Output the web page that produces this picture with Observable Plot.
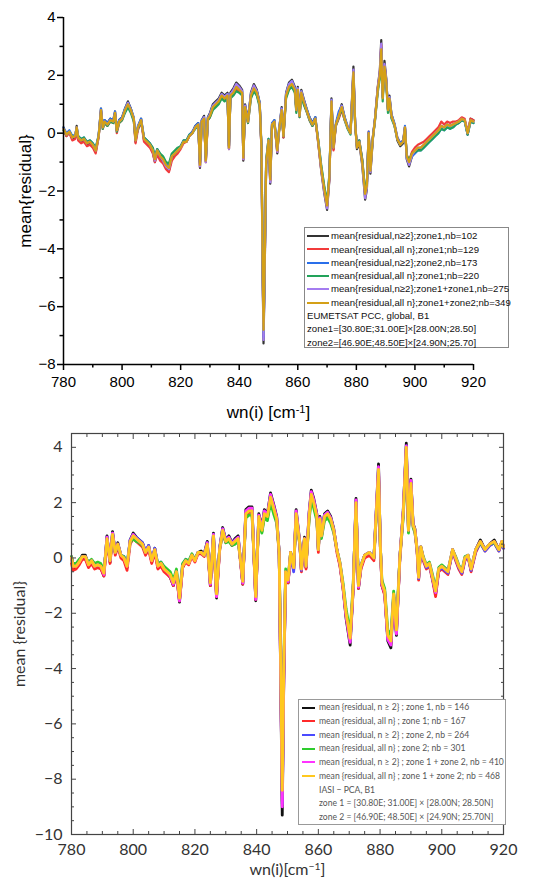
<!DOCTYPE html>
<html><head><meta charset="utf-8">
<script src="https://cdn.jsdelivr.net/npm/d3@7"></script>
<script src="https://cdn.jsdelivr.net/npm/@observablehq/plot@0.6"></script>
<style>
body{margin:0;background:#fff;width:550px;height:888px;overflow:hidden;position:relative}
#top{position:absolute;left:0;top:0}
#bot{position:absolute;left:0;top:430px}
.leg{position:absolute;background:#fff;box-sizing:border-box}
.row{position:absolute;left:0;white-space:nowrap}
.sw{position:absolute;height:2px}
</style></head><body>
<div id="top"></div><div id="bot"></div>
<div id="legTop" class="leg"></div><div id="legBot" class="leg"></div>
<script>
// ---------- top panel (EUMETSAT PCC) ----------
const wnTop = [
780,781,782,783,784,784.5,785,786,787,788,
789,790,791,792,792.8,793.4,794,795,796,797,
797.6,798.2,799,800,801,802,803,804,804.6,805.4,
806.5,807.5,808.5,809.5,810.5,811.2,812,813,814,815,
816,817,818,819,820,821,822,823,824,825,
826,826.6,827.2,828,828.6,829.3,830,831,832,833,
834,835,836,836.5,837,838,839,840,841,841.4,
842,843,844,845,846,847,847.6,848,848.3,848.7,
849.2,850,850.6,851.2,852,853,853.6,854.5,855.1,856,
857,858,859,859.5,860,860.6,861.2,862,863,864,
865,866,867,868,869,870,870.8,871.5,872.2,873,
874,875,876,877,878,879,879.6,880.2,881,882,
883,883.6,884.2,884.8,885.6,886.4,887.3,888,888.5,889,
889.6,890.2,890.8,891.3,892,893,894,895,896,896.6,
897.2,898,899,900,901,902,903,904,905,906,
907,908,909,910,911,912,913,914,915,916,
917,918,919,920];
const topBlack = [
0.2,-0.1,0.05,-0.2,-0.15,0.25,-0.2,-0.3,-0.25,-0.4,
-0.35,-0.45,-0.65,-0.1,0.85,0.2,0.45,0.35,0.5,0.45,
0.75,0.1,0.45,0.55,0.85,1.1,0.85,0.5,-0.3,0.2,
0.5,-0.25,-0.35,-0.45,-0.65,-1.0,-0.65,-0.85,-1.0,-1.2,
-1.3,-0.85,-0.75,-0.6,-0.5,-0.3,-0.3,-0.1,0.0,0.25,
0.35,-1.2,0.45,0.6,-1.0,0.55,0.7,1.0,1.1,1.2,
1.4,1.3,1.4,-0.55,1.4,1.55,1.75,1.65,1.5,-0.95,
1.0,0.45,1.4,1.7,1.5,1.05,-0.6,-4.8,-7.27,-4.8,
-1.1,-0.3,-1.75,0.3,0.45,-0.7,0.1,0.9,-0.15,1.4,
1.75,1.85,1.6,0.85,1.6,0.65,1.5,1.2,0.85,0.55,
0.35,0.55,-0.35,-1.3,-2.05,-2.65,-1.6,1.2,-0.55,0.3,
0.65,1.0,0.55,0.2,0.0,2.3,0.3,-0.55,-0.35,-1.1,
-2.3,-1.95,0.0,-1.4,-0.25,0.55,1.6,2.15,3.22,1.3,
2.5,1.9,0.85,1.3,0.65,0.3,-0.25,-0.45,-0.35,0.2,
-0.9,-1.15,-0.8,-0.65,-0.55,-0.55,-0.45,-0.3,-0.2,-0.1,
0.0,0.1,0.25,0.2,0.3,0.25,0.3,0.35,0.4,0.5,
0.45,-0.05,0.5,0.45];
const topRed = [
0.1,-0.1,0.0,-0.25,-0.2,0.15,-0.25,-0.35,-0.3,-0.45,
-0.4,-0.5,-0.7,-0.15,0.75,0.15,0.35,0.25,0.4,0.35,
0.65,0.0,0.35,0.45,0.75,0.95,0.75,0.45,-0.35,0.1,
0.4,-0.3,-0.4,-0.5,-0.7,-1.0,-0.75,-0.95,-1.05,-1.25,
-1.35,-0.95,-0.8,-0.7,-0.55,-0.35,-0.3,-0.1,0.05,0.2,
0.3,-1.15,0.4,0.5,-1.0,0.45,0.55,0.85,0.95,1.05,
1.25,1.15,1.25,-0.55,1.25,1.35,1.5,1.45,1.35,-0.9,
0.85,0.35,1.25,1.5,1.35,0.95,-0.55,-4.6,-7.0,-4.6,
-1.05,-0.3,-1.65,0.25,0.35,-0.65,0.05,0.75,-0.15,1.25,
1.55,1.65,1.45,0.75,1.45,0.55,1.35,1.05,0.75,0.45,
0.25,0.45,-0.35,-1.25,-1.95,-2.55,-1.55,1.05,-0.6,0.25,
0.5,0.8,0.45,0.2,0.0,2.05,0.3,-0.45,-0.25,-0.9,
-2.05,-1.75,0.05,-1.25,-0.15,0.5,1.55,2.05,3.05,1.25,
2.35,1.8,0.8,1.15,0.55,0.3,-0.15,-0.35,-0.25,0.2,
-0.75,-0.95,-0.65,-0.5,-0.4,-0.35,-0.3,-0.2,-0.1,0.0,
0.1,0.2,0.4,0.3,0.4,0.35,0.4,0.4,0.45,0.55,
0.5,0.05,0.5,0.45];
const topBlue = [
0.2,0.0,0.1,-0.1,-0.05,0.2,-0.1,-0.2,-0.15,-0.3,
-0.25,-0.35,-0.55,-0.05,0.85,0.25,0.45,0.35,0.5,0.45,
0.75,0.15,0.45,0.55,0.85,1.05,0.85,0.55,-0.2,0.25,
0.5,-0.15,-0.25,-0.35,-0.55,-0.85,-0.55,-0.75,-0.85,-1.05,
-1.15,-0.75,-0.65,-0.55,-0.45,-0.25,-0.25,-0.05,0.05,0.25,
0.35,-1.05,0.45,0.55,-0.9,0.55,0.65,0.95,1.05,1.15,
1.35,1.25,1.35,-0.45,1.35,1.45,1.65,1.55,1.45,-0.8,
0.95,0.45,1.35,1.6,1.45,1.05,-0.45,-4.6,-7.05,-4.6,
-0.95,-0.2,-1.55,0.35,0.45,-0.55,0.15,0.85,-0.05,1.35,
1.7,1.8,1.55,0.85,1.55,0.65,1.45,1.15,0.85,0.55,
0.35,0.55,-0.25,-1.15,-1.85,-2.45,-1.45,1.15,-0.45,0.35,
0.75,0.95,0.55,0.25,0.05,2.1,0.35,-0.45,-0.25,-0.95,
-2.1,-1.75,0.05,-1.25,-0.15,0.55,1.5,2.0,2.95,1.25,
2.35,1.85,0.85,1.25,0.65,0.35,-0.15,-0.35,-0.25,0.25,
-0.85,-1.05,-0.8,-0.7,-0.6,-0.6,-0.5,-0.4,-0.3,-0.2,
-0.1,0.0,0.15,0.1,0.2,0.15,0.2,0.3,0.35,0.45,
0.4,-0.05,0.4,0.35];
const topGreen = [
0.1,-0.05,0.05,-0.1,-0.1,0.15,-0.1,-0.2,-0.15,-0.3,
-0.25,-0.35,-0.5,-0.1,0.7,0.15,0.35,0.25,0.4,0.35,
0.6,0.05,0.35,0.45,0.7,0.9,0.7,0.4,-0.2,0.15,
0.4,-0.15,-0.25,-0.35,-0.5,-0.8,-0.55,-0.7,-0.8,-1.0,
-1.05,-0.7,-0.6,-0.5,-0.45,-0.25,-0.25,-0.05,0.0,0.15,
0.25,-1.0,0.35,0.45,-0.85,0.45,0.55,0.8,0.9,1.0,
1.2,1.1,1.2,-0.45,1.2,1.3,1.45,1.4,1.3,-0.75,
0.8,0.35,1.2,1.45,1.3,0.9,-0.45,-4.4,-6.9,-4.4,
-0.95,-0.2,-1.5,0.25,0.35,-0.55,0.05,0.7,-0.1,1.2,
1.5,1.6,1.4,0.7,1.4,0.55,1.3,1.0,0.75,0.45,
0.25,0.45,-0.25,-1.1,-1.8,-2.4,-1.4,1.0,-0.45,0.25,
0.55,0.85,0.45,0.15,-0.05,1.95,0.25,-0.45,-0.25,-0.9,
-2.0,-1.7,-0.05,-1.2,-0.2,0.45,1.4,1.9,2.8,1.1,
2.2,1.7,0.7,1.1,0.5,0.25,-0.2,-0.4,-0.3,0.15,
-0.75,-0.95,-0.7,-0.65,-0.6,-0.6,-0.5,-0.4,-0.3,-0.2,
-0.1,0.0,0.15,0.1,0.2,0.15,0.2,0.3,0.35,0.45,
0.4,-0.05,0.4,0.35];
const topPurple = [
0.15,-0.05,0.05,-0.15,-0.1,0.2,-0.15,-0.25,-0.2,-0.35,
-0.3,-0.4,-0.6,-0.1,0.8,0.2,0.4,0.3,0.45,0.4,
0.7,0.1,0.4,0.5,0.8,1.05,0.8,0.5,-0.25,0.2,
0.45,-0.2,-0.3,-0.4,-0.6,-0.95,-0.6,-0.8,-0.95,-1.15,
-1.25,-0.8,-0.7,-0.6,-0.5,-0.3,-0.3,-0.1,0.0,0.2,
0.3,-1.15,0.4,0.55,-1.0,0.5,0.65,0.95,1.05,1.15,
1.35,1.25,1.35,-0.55,1.35,1.5,1.7,1.6,1.45,-0.9,
0.95,0.4,1.35,1.65,1.45,1.0,-0.55,-4.7,-7.15,-4.7,
-1.05,-0.25,-1.7,0.3,0.4,-0.65,0.1,0.85,-0.1,1.35,
1.7,1.8,1.55,0.8,1.55,0.6,1.45,1.15,0.8,0.5,
0.3,0.5,-0.3,-1.25,-2.0,-2.6,-1.55,1.15,-0.5,0.3,
0.6,0.95,0.5,0.2,0.0,2.2,0.3,-0.5,-0.3,-1.05,
-2.25,-1.9,0.0,-1.35,-0.2,0.5,1.55,2.1,3.1,1.25,
2.4,1.85,0.8,1.25,0.6,0.3,-0.2,-0.4,-0.3,0.2,
-0.85,-1.1,-0.75,-0.6,-0.5,-0.5,-0.4,-0.3,-0.2,-0.1,
0.0,0.1,0.25,0.2,0.3,0.25,0.3,0.35,0.4,0.5,
0.45,0.0,0.45,0.4];
const topGold = [
0.15,-0.05,0.05,-0.15,-0.1,0.2,-0.15,-0.25,-0.2,-0.35,
-0.3,-0.4,-0.6,-0.1,0.8,0.2,0.4,0.3,0.45,0.4,
0.7,0.1,0.4,0.5,0.8,1.0,0.8,0.5,-0.25,0.2,
0.45,-0.2,-0.3,-0.4,-0.6,-0.9,-0.6,-0.8,-0.9,-1.1,
-1.2,-0.8,-0.7,-0.6,-0.5,-0.3,-0.3,-0.1,0.0,0.2,
0.3,-1.1,0.4,0.5,-0.95,0.5,0.6,0.9,1.0,1.1,
1.3,1.2,1.3,-0.5,1.3,1.4,1.6,1.5,1.4,-0.85,
0.9,0.4,1.3,1.55,1.4,1.0,-0.5,-4.5,-6.8,-4.5,
-1.0,-0.25,-1.6,0.3,0.4,-0.6,0.1,0.8,-0.1,1.3,
1.6,1.7,1.5,0.8,1.5,0.6,1.4,1.1,0.8,0.5,
0.3,0.5,-0.3,-1.2,-1.9,-2.5,-1.5,1.1,-0.5,0.3,
0.6,0.9,0.5,0.2,0.0,2.1,0.3,-0.5,-0.3,-1.0,
-2.1,-1.8,0.0,-1.3,-0.2,0.5,1.5,2.0,2.9,1.2,
2.3,1.8,0.8,1.2,0.6,0.3,-0.2,-0.4,-0.3,0.2,
-0.8,-1.0,-0.7,-0.6,-0.5,-0.5,-0.4,-0.3,-0.2,-0.1,
0.0,0.1,0.25,0.2,0.3,0.25,0.3,0.35,0.4,0.5,
0.45,0.0,0.45,0.4];
const topLabels = [
"mean{residual,n\u22652};zone1,nb=102",
"mean{residual,all n};zone1;nb=129",
"mean{residual,n\u22652};zone2,nb=173",
"mean{residual,all n};zone1;nb=220",
"mean{residual,n\u22652};zone1+zone1,nb=275",
"mean{residual,all n};zone1+zone2;nb=349"];
const topNotes = [
"EUMETSAT PCC, global, B1",
"zone1=[30.80E;31.00E]\u00d7[28.00N;28.50]",
"zone2=[46.90E;48.50E]\u00d7[24.90N;25.70]"];

// ---------- bottom panel (IASI - PCA) ----------
const wnBot = [
780,780.5,781.5,782.5,783.5,784.5,785.5,786.5,787.5,788.5,
789.5,790.5,791.5,792.5,793.3,794.2,795,796,797,798,
799,800,801,802,803,804,805,806,807,808,
809,810,811,812,813,814,815,816,817,818,
819,820,821,822,823,824,825,826,827,828,
829,830,831,832,833,834,835.5,836.5,837.5,838.5,
839.7,840.7,841.7,842.5,843.5,844.5,845.5,846.5,847.3,847.8,
848.3,848.8,849.4,850.2,851,852,852.8,854,854.5,855.5,
856,857,857.7,858.5,859.5,860,860.5,861,862,863,
864,865,866,867,868,869,870.3,871.3,872.2,873,
873.8,875,876.5,878,879.5,880.1,880.6,881.5,882.5,883.5,
884.4,885.3,886.4,887.5,888.5,889.2,890,890.7,891.3,892,
892.5,893.2,894,895,896,897,898,899,900,901,
902,903.5,904.5,905.5,906.5,907.5,908.5,909.5,911,912.5,
914,915.5,917,918.5,919.5,920];
const botBlack = [
0.05,-0.35,-0.35,-0.15,0.1,0.1,-0.3,-0.1,-0.35,-0.3,
-0.35,-0.65,0.8,-0.15,0.95,0.2,0.55,0.1,0.0,-0.35,
0.65,0.9,0.75,0.65,0.55,0.2,0.45,-0.15,0.35,-0.35,
-0.25,-0.45,-0.55,-0.7,-1.0,-0.55,-1.6,-0.35,-0.1,-0.2,
0.1,-0.1,0.2,0.25,0.15,0.6,-1.0,0.9,-1.45,0.35,
1.1,0.65,0.8,0.55,0.7,0.8,-0.95,1.75,1.85,1.85,
-1.55,1.6,1.1,1.75,1.6,2.35,1.95,1.5,0.2,-4.4,
-9.3,-4.4,-0.55,-0.9,0.2,-0.4,1.75,0.55,-0.45,0.75,
-0.35,1.65,2.45,2.15,1.6,0.3,1.5,0.85,1.6,1.7,
1.5,1.05,0.3,-0.25,-1.1,-2.2,-3.15,-1.1,2.15,-1.1,
-0.35,0.1,0.2,0.0,3.4,0.4,-1.0,-1.3,-3.0,-3.25,
-1.4,-2.8,0.0,1.7,4.15,1.05,2.85,1.25,1.05,0.3,
-0.75,0.4,0.0,-0.35,-0.2,-0.75,-1.3,-0.45,-0.35,-0.45,
-0.55,0.3,0.0,-0.35,-0.55,0.0,0.1,-0.45,0.3,0.65,
0.3,0.5,0.65,0.3,0.6,0.4];
const botRed = [
-0.2,-0.45,-0.4,-0.25,-0.05,-0.05,-0.35,-0.2,-0.4,-0.35,
-0.4,-0.65,0.6,-0.2,0.75,0.1,0.4,0.0,-0.1,-0.45,
0.5,0.7,0.6,0.5,0.4,0.1,0.3,-0.2,0.2,-0.4,
-0.3,-0.5,-0.6,-0.7,-1.0,-0.6,-1.55,-0.35,-0.15,-0.25,
0.05,-0.15,0.15,0.15,0.05,0.45,-1.0,0.75,-1.4,0.25,
0.95,0.55,0.65,0.45,0.55,0.65,-0.95,1.55,1.65,1.65,
-1.5,1.45,0.95,1.55,1.45,2.15,1.75,1.35,0.1,-4.3,
-8.8,-4.3,-0.6,-0.9,0.1,-0.45,1.55,0.45,-0.5,0.65,
-0.4,1.45,2.25,1.95,1.45,0.2,1.35,0.75,1.45,1.55,
1.35,0.95,0.2,-0.3,-1.1,-2.1,-3.0,-1.1,1.95,-1.1,
-0.4,0.0,0.1,-0.1,3.1,0.3,-1.0,-1.35,-2.9,-3.1,
-1.4,-2.7,-0.1,1.55,3.95,0.95,2.65,1.15,0.95,0.2,
-0.8,0.3,-0.1,-0.4,-0.3,-0.8,-1.4,-0.5,-0.4,-0.5,
-0.6,0.25,-0.1,-0.4,-0.6,-0.1,0.05,-0.5,0.2,0.55,
0.25,0.45,0.55,0.25,0.55,0.35];
const botBlue = [
0.0,-0.25,-0.25,-0.1,0.05,0.05,-0.2,-0.1,-0.3,-0.25,
-0.3,-0.5,0.75,-0.1,0.9,0.2,0.5,0.1,0.05,-0.25,
0.65,0.85,0.75,0.65,0.55,0.25,0.45,-0.05,0.35,-0.25,
-0.15,-0.35,-0.45,-0.6,-0.95,-0.5,-1.4,-0.25,-0.05,-0.15,
0.1,-0.05,0.2,0.2,0.1,0.55,-0.95,0.85,-1.3,0.35,
1.05,0.65,0.75,0.55,0.65,0.75,-0.9,1.65,1.75,1.75,
-1.4,1.55,1.05,1.65,1.55,2.25,1.85,1.45,0.2,-4.2,
-8.9,-4.2,-0.55,-0.85,0.15,-0.5,1.65,0.5,-0.45,0.7,
-0.3,1.55,2.35,2.05,1.55,0.3,1.45,0.85,1.55,1.65,
1.45,1.0,0.3,-0.2,-1.0,-2.05,-3.0,-1.0,2.05,-1.05,
-0.3,0.1,0.2,0.0,3.25,0.4,-0.95,-1.2,-2.9,-3.05,
-1.3,-2.65,0.0,1.65,4.05,1.0,2.75,1.2,1.0,0.3,
-0.75,0.35,-0.05,-0.35,-0.25,-0.75,-1.25,-0.45,-0.35,-0.45,
-0.55,0.25,-0.05,-0.35,-0.55,-0.05,0.05,-0.45,0.25,0.55,
0.25,0.45,0.55,0.25,0.55,0.35];
const botGreen = [
0.05,-0.2,-0.2,-0.05,0.05,0.05,-0.15,-0.05,-0.2,-0.15,
-0.2,-0.45,0.6,-0.05,0.75,0.2,0.45,0.1,0.05,-0.2,
0.55,0.7,0.6,0.55,0.45,0.2,0.35,-0.05,0.25,-0.2,
-0.15,-0.3,-0.4,-0.5,-0.8,-0.4,-1.3,-0.2,-0.05,-0.1,
0.15,-0.05,0.2,0.2,0.1,0.45,-0.8,0.7,-1.15,0.3,
0.9,0.55,0.6,0.45,0.5,0.6,-0.75,1.45,1.55,1.55,
-1.25,1.35,0.9,1.45,1.35,2.0,1.6,1.25,0.2,-3.8,
-8.6,-3.8,-0.4,-0.7,0.2,-0.3,1.45,0.45,-0.3,0.6,
-0.25,1.35,2.1,1.8,1.35,0.3,1.25,0.7,1.35,1.45,
1.25,0.9,0.3,-0.15,-0.9,-1.85,-2.7,-0.9,1.85,-0.9,
-0.25,0.1,0.2,0.0,2.95,0.4,-0.8,-1.1,-2.6,-2.8,
-1.2,-2.4,0.0,1.45,3.75,0.9,2.5,1.1,0.9,0.3,
-0.6,0.4,0.05,-0.25,-0.15,-0.6,-1.1,-0.35,-0.25,-0.35,
-0.45,0.3,0.05,-0.25,-0.45,0.05,0.1,-0.35,0.3,0.55,
0.3,0.5,0.55,0.3,0.55,0.4];
const botMagenta = [
0.0,-0.3,-0.3,-0.15,0.05,0.05,-0.25,-0.1,-0.3,-0.25,
-0.3,-0.6,0.75,-0.1,0.9,0.2,0.5,0.1,0.0,-0.3,
0.6,0.85,0.7,0.6,0.5,0.2,0.4,-0.1,0.3,-0.3,
-0.2,-0.4,-0.5,-0.65,-0.95,-0.5,-1.55,-0.3,-0.1,-0.2,
0.1,-0.1,0.2,0.2,0.1,0.55,-0.95,0.85,-1.4,0.3,
1.05,0.6,0.75,0.5,0.65,0.75,-0.9,1.7,1.8,1.8,
-1.5,1.55,1.05,1.7,1.55,2.3,1.9,1.45,0.2,-4.3,
-9.0,-4.3,-0.5,-0.85,0.2,-0.35,1.7,0.5,-0.4,0.7,
-0.3,1.6,2.4,2.1,1.55,0.3,1.45,0.8,1.55,1.65,
1.45,1.0,0.3,-0.2,-1.05,-2.1,-3.05,-1.05,2.1,-1.05,
-0.3,0.1,0.2,0.0,3.3,0.4,-0.95,-1.25,-2.95,-3.15,
-1.35,-2.75,0.0,1.65,4.05,1.0,2.8,1.2,1.0,0.3,
-0.7,0.4,0.0,-0.3,-0.2,-0.7,-1.25,-0.4,-0.3,-0.4,
-0.5,0.3,0.0,-0.3,-0.5,0.0,0.1,-0.4,0.3,0.6,
0.3,0.5,0.6,0.3,0.6,0.4];
const botYellow = [
0.0,-0.3,-0.3,-0.15,0.05,0.05,-0.25,-0.1,-0.3,-0.25,
-0.3,-0.55,0.7,-0.1,0.85,0.2,0.5,0.1,0.0,-0.3,
0.6,0.8,0.7,0.6,0.5,0.2,0.4,-0.1,0.3,-0.3,
-0.2,-0.4,-0.5,-0.6,-0.9,-0.5,-1.45,-0.3,-0.1,-0.2,
0.1,-0.1,0.2,0.2,0.1,0.5,-0.9,0.8,-1.3,0.3,
1.0,0.6,0.7,0.5,0.6,0.7,-0.85,1.6,1.7,1.7,
-1.4,1.5,1.0,1.6,1.5,2.2,1.8,1.4,0.2,-4.0,
-8.4,-4.0,-0.5,-0.8,0.2,-0.35,1.6,0.5,-0.4,0.7,
-0.3,1.5,2.3,2.0,1.5,0.3,1.4,0.8,1.5,1.6,
1.4,1.0,0.3,-0.2,-1.0,-2.0,-2.9,-1.0,2.0,-1.0,
-0.3,0.1,0.2,0.0,3.2,0.4,-0.9,-1.2,-2.8,-3.0,
-1.3,-2.6,0.0,1.6,4.0,1.0,2.7,1.2,1.0,0.3,
-0.7,0.4,0.0,-0.3,-0.2,-0.7,-1.2,-0.4,-0.3,-0.4,
-0.5,0.3,0.0,-0.3,-0.5,0.0,0.1,-0.4,0.3,0.6,
0.3,0.5,0.6,0.3,0.6,0.4];
const botLabels = [
"mean {residual, n \u2265 2} ; zone 1, nb = 146",
"mean {residual, all n} ; zone 1; nb = 167",
"mean {residual, n \u2265 2} ; zone 2, nb = 264",
"mean {residual, all n} ; zone 2; nb = 301",
"mean {residual, n \u2265 2} ; zone 1 + zone 2, nb = 410",
"mean {residual, all n} ; zone 1 + zone 2; nb = 468"];
const botNotes = [
"IASI \u2212 PCA, B1",
"zone 1 = [30.80E; 31.00E] \u00d7 [28.00N; 28.50N]",
"zone 2 = [46.90E; 48.50E] \u00d7 [24.90N; 25.70N]"];

// ---------- ticks ----------
const xTicks = [780,800,820,840,860,880,900,920];
const xMinorTop = [790,810,830,850,870,890,910];
const yTicksTop = [-8,-6,-4,-2,0,2,4];
const yMinorTop = [-7,-5,-3,-1,1,3];
const xMinorBot = [785,790,795,805,810,815,825,830,835,845,850,855,865,870,875,885,890,895,905,910,915];
const yTicksBot = [-10,-8,-6,-4,-2,0,2,4];
const yMinorBot = [-9.5,-9,-8.5,-7.5,-7,-6.5,-5.5,-5,-4.5,-3.5,-3,-2.5,-1.5,-1,-0.5,0.5,1,1.5,2.5,3,3.5];

const fmt = d => d < 0 ? "\u2212" + (-d) : String(d);

const topSeries = [topBlack, topRed, topBlue, topGreen, topPurple, topGold];
const topColors = ["#333333","#f23b3b","#2a6fea","#22a35a","#a47cf0","#d4a017"];
const botSeries = [botBlack, botRed, botBlue, botGreen, botMagenta, botYellow];
const botColors = ["#111111","#ff2a2a","#4b4bff","#2ecc2e","#ff33ff","#ffc81e"];

const topPlot = Plot.plot({
  width: 550, height: 430,
  marginLeft: 63, marginRight: 77, marginTop: 17, marginBottom: 66,
  style: {fontFamily: "'Liberation Sans', Arial, sans-serif", fontSize: "15px", color: "#000", background: "#fff", overflow: "visible"},
  x: {domain: [780, 920]},
  y: {domain: [-8, 4]},
  marks: [
    ...topSeries.map((s, i) => Plot.lineY(s, {x: wnTop, stroke: topColors[i], strokeWidth: 2.2, strokeLinejoin: "round"})),
    Plot.ruleX([780], {stroke: "#000", strokeWidth: 1.5}),
    Plot.ruleY([-8], {stroke: "#000", strokeWidth: 1.5}),
    Plot.axisX({ticks: xTicks, tickSize: 6, tickPadding: 6, tickFormat: fmt, fontSize: 15, label: null, strokeWidth: 1.5}),
    Plot.axisX({ticks: xMinorTop, tickSize: 3.5, fill: "none", label: null, strokeWidth: 1.5}),
    Plot.axisY({ticks: yTicksTop, tickSize: 6, tickPadding: 2, tickFormat: fmt, fontSize: 15, label: null, strokeWidth: 1.5}),
    Plot.axisY({ticks: yMinorTop, tickSize: 3.5, fill: "none", label: null, strokeWidth: 1.5}),
    Plot.text(["mean{residual}"], {frameAnchor: "left", dx: -38, rotate: -90, text: d => d, fontSize: 17, textAnchor: "middle", lineAnchor: "middle"}),
    Plot.text(["wn(i) [cm-1]"], {frameAnchor: "bottom", dy: 48, text: d => d, fontSize: 17, textAnchor: "middle", lineAnchor: "middle"})
  ]
});
document.getElementById("top").appendChild(topPlot);

const tickAxes = [];
for (const a of ["bottom", "top"]) {
  tickAxes.push(Plot.axisX({anchor: a, ticks: xTicks, tickSize: -5, fill: "none", label: null, stroke: "#444"}));
  tickAxes.push(Plot.axisX({anchor: a, ticks: xMinorBot, tickSize: -3, fill: "none", label: null, stroke: "#444"}));
}
for (const a of ["left", "right"]) {
  tickAxes.push(Plot.axisY({anchor: a, ticks: yTicksBot, tickSize: -5, fill: "none", label: null, stroke: "#444"}));
  tickAxes.push(Plot.axisY({anchor: a, ticks: yMinorBot, tickSize: -3, fill: "none", label: null, stroke: "#444"}));
}

const botPlot = Plot.plot({
  width: 550, height: 458,
  marginLeft: 71, marginRight: 47, marginTop: 3, marginBottom: 54,
  style: {fontFamily: "Lato, 'Open Sans', sans-serif", fontSize: "15px", color: "#333", background: "#fff", overflow: "visible"},
  x: {domain: [780, 920]},
  y: {domain: [-10, 4.5]},
  marks: [
    ...botSeries.map((s, i) => Plot.lineY(s, {x: wnBot, stroke: botColors[i], strokeWidth: 2.8, strokeLinejoin: "round"})),
    Plot.frame({stroke: "#444", strokeWidth: 1.2}),
    ...tickAxes,
    Plot.axisX({ticks: xTicks, tickSize: 0, tickPadding: 9, tickFormat: fmt, fontSize: 16, label: null}),
    Plot.axisY({ticks: yTicksBot, tickSize: 0, tickPadding: 9, tickFormat: fmt, fontSize: 16, label: null}),
    Plot.text(["mean {residual}"], {frameAnchor: "left", dx: -52, rotate: -90, text: d => d, fontSize: 16, textAnchor: "middle", lineAnchor: "middle"}),
    Plot.text(["wn(i)[cm-1]"], {frameAnchor: "bottom", dy: 35, text: d => d, fontSize: 16, textAnchor: "middle", lineAnchor: "middle"})
  ]
});
document.getElementById("bot").appendChild(botPlot);

// superscript for the "-1" in axis titles
function supify(svg, str, base, sup, tail) {
  const NS = "http://www.w3.org/2000/svg";
  svg.querySelectorAll("text").forEach(t => {
    if (t.textContent === str) {
      t.textContent = "";
      const a = document.createElementNS(NS, "tspan"); a.textContent = base;
      const b = document.createElementNS(NS, "tspan"); b.textContent = sup;
      b.setAttribute("dy", "-0.45em"); b.setAttribute("font-size", "0.65em");
      const c = document.createElementNS(NS, "tspan"); c.textContent = tail;
      c.setAttribute("dy", "0.3em");
      t.append(a, b, c);
    }
  });
}
supify(topPlot, "wn(i) [cm-1]", "wn(i) [cm", "-1", "]");
supify(botPlot, "wn(i)[cm-1]", "wn(i)[cm", "\u22121", "]");

// legends
function legend(el, box, labels, notes, colors, st) {
  Object.assign(el.style, {left: box.left + "px", top: box.top + "px", width: box.width + "px", height: box.height + "px",
    border: st.border, fontFamily: st.font, fontSize: st.size + "px", color: st.color});
  const all = labels.concat(notes);
  all.forEach((txt, i) => {
    const cy = st.first + i * st.step;
    const r = document.createElement("div");
    r.className = "row";
    r.style.top = (cy - st.size * 0.6) + "px";
    r.style.lineHeight = (st.size * 1.2) + "px";
    r.style.left = (i < labels.length ? st.textX : st.noteX) + "px";
    r.textContent = txt;
    el.appendChild(r);
    if (i < labels.length) {
      const s = document.createElement("div");
      s.className = "sw";
      Object.assign(s.style, {left: st.swX + "px", width: st.swW + "px", top: (cy - st.swH / 2) + "px", height: st.swH + "px", background: colors[i]});
      el.appendChild(s);
    }
  });
}
legend(document.getElementById("legTop"), {left: 304, top: 227, width: 205, height: 121}, topLabels, topNotes, topColors,
  {border: "1px solid #888", font: "'Liberation Sans', Arial, sans-serif", size: 9.6, color: "#111", first: 8, step: 13.3, textX: 26, noteX: 2, swX: 2, swW: 22, swH: 2});
legend(document.getElementById("legBot"), {left: 298, top: 699, width: 208, height: 126}, botLabels, botNotes, botColors,
  {border: "1px solid #999", font: "Lato, 'Open Sans', sans-serif", size: 8.6, color: "#555", first: 7.5, step: 13.7, textX: 20, noteX: 20, swX: 3, swW: 13, swH: 2});
</script>
</body></html>
